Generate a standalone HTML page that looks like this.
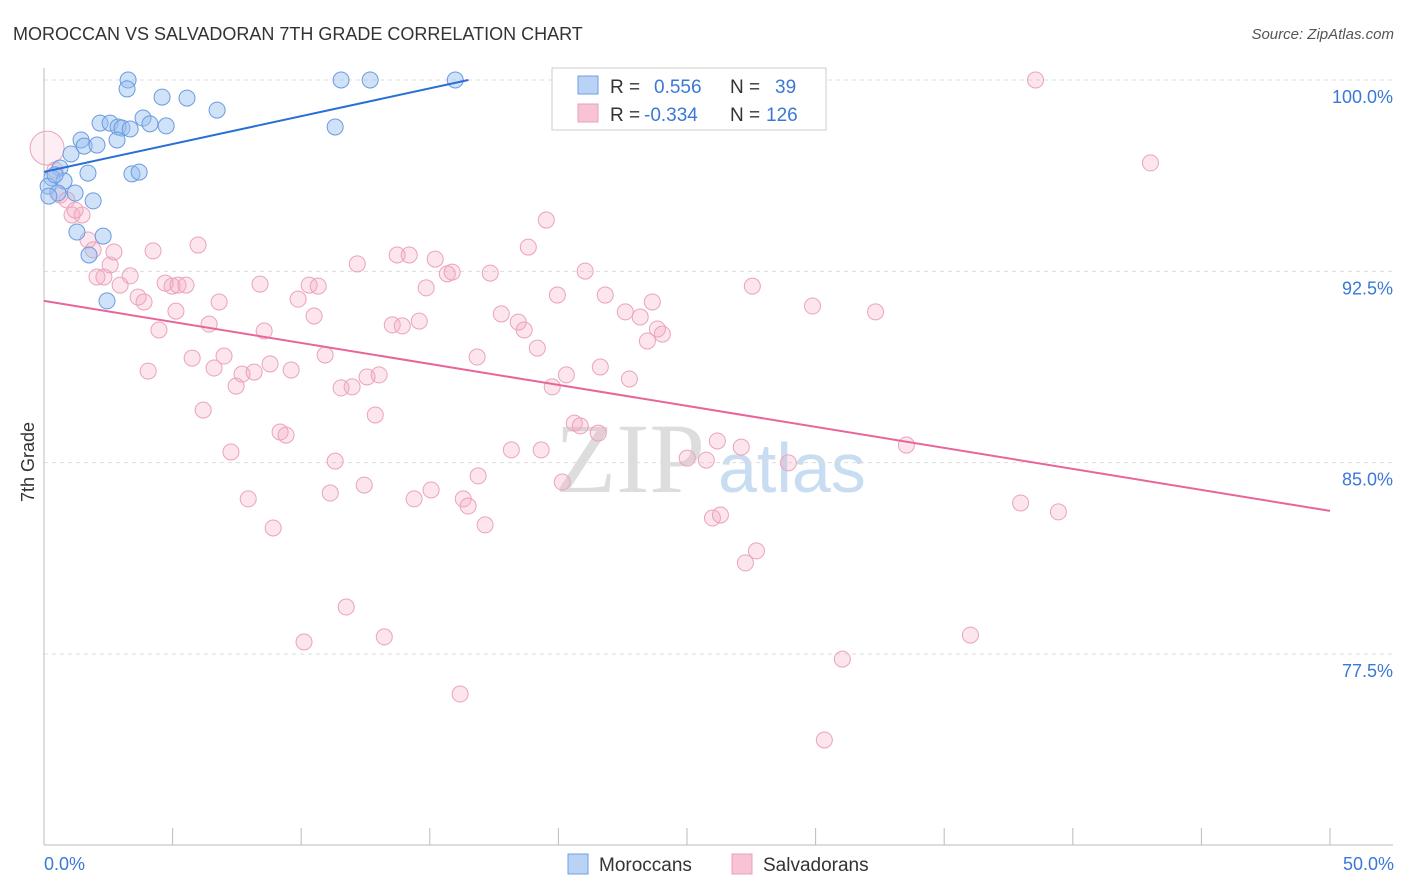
<!DOCTYPE html>
<html><head><meta charset="utf-8">
<style>
body{margin:0;background:#fff;font-family:"Liberation Sans",sans-serif;}
#wrap{position:relative;width:1406px;height:892px;overflow:hidden;}
</style></head>
<body>
<div id="wrap">
<svg id="chart" width="1406" height="892" xmlns="http://www.w3.org/2000/svg" font-family="Liberation Sans, sans-serif">
<text x="13" y="40" font-size="18" fill="#333">MOROCCAN VS SALVADORAN 7TH GRADE CORRELATION CHART</text>
<text x="1394" y="39" font-size="15" fill="#555" text-anchor="end" font-style="italic">Source: ZipAtlas.com</text>
<text x="555" y="492" font-size="100" fill="#ddd" font-family="Liberation Serif, serif">ZIP</text>
<text x="718" y="492" font-size="70" fill="#c8dcf2">atlas</text>
<g id="grid"></g>
<g id="axes"></g>
<g id="pts"></g>
<g id="lines"></g>
<text x="34" y="462" font-size="18" fill="#333" transform="rotate(-90 34 462)" text-anchor="middle">7th Grade</text>
<g>
<rect x="552" y="68" width="274" height="62" fill="#fff" stroke="#ccc"/>
<rect x="578" y="76" width="20" height="18" fill="#b8d3f5" stroke="#6f9fe0"/>
<rect x="578" y="104" width="20" height="18" fill="#f8c4d4" stroke="#e8a0b8"/>
<text x="610" y="93" font-size="19" fill="#333">R =</text>
<text x="654" y="93" font-size="19" fill="#3a78d8">0.556</text>
<text x="730" y="93" font-size="19" fill="#333">N =</text>
<text x="775" y="93" font-size="19" fill="#3a78d8">39</text>
<text x="610" y="121" font-size="19" fill="#333">R =</text>
<text x="644" y="121" font-size="19" fill="#3a78d8">-0.334</text>
<text x="730" y="121" font-size="19" fill="#333">N =</text>
<text x="766" y="121" font-size="19" fill="#3a78d8">126</text>
</g>
<g>
<rect x="568" y="854" width="20" height="20" fill="#b8d3f5" stroke="#6f9fe0"/>
<text x="599" y="871" font-size="19" fill="#333">Moroccans</text></g>
<g>
<rect x="732" y="854" width="20" height="20" fill="#f8c4d4" stroke="#e8a0b8"/>
<text x="763" y="871" font-size="19" fill="#333">Salvadorans</text></g>
</svg>
</div>
<script>
const yTicks=[100,92.5,85,77.5];
const yTickLabels=["100.0%","92.5%","85.0%","77.5%"];
const xTickLabels=["0.0%","50.0%"];
const blueX=[3.27,3.23,4.59,5.56,6.73,11.55,12.68,15.99,25.79,2.18,2.57,2.88,3.03,3.35,3.85,4.12,4.75,11.32,1.44,1.56,2.06,2.84,1.05,0.62,1.71,3.42,3.70,0.31,0.78,0.16,0.43,1.21,0.54,0.19,1.91,1.28,2.30,1.75,2.45];
const blueY=[100,99.65,99.33,99.29,98.82,100,100,100,100,98.31,98.31,98.16,98.12,98.08,98.51,98.28,98.2,98.16,97.65,97.41,97.45,97.65,97.1,96.55,96.35,96.32,96.39,96.16,96.04,95.84,96.28,95.57,95.57,95.45,95.26,94.04,93.88,93.14,91.34];
const pinkX=[38.55,43.02,0.12,0.43,0.62,0.89,1.09,1.48,1.21,1.71,1.91,2.06,2.33,2.57,2.72,2.96,3.35,3.66,3.89,4.24,4.05,4.47,4.71,4.98,5.21,5.52,5.13,5.76,5.99,6.19,6.42,6.61,6.81,7.00,7.27,7.47,7.70,7.94,8.17,8.40,8.56,8.79,8.91,9.18,9.41,9.61,9.88,10.11,10.31,10.50,10.66,10.93,11.13,11.32,11.55,11.75,11.98,12.18,12.45,12.56,12.88,13.03,13.23,13.54,13.73,13.93,14.20,14.39,14.59,14.86,15.05,15.21,15.68,15.87,16.18,16.30,16.49,16.84,16.88,17.15,17.35,17.78,18.17,18.44,18.67,18.83,19.18,19.33,19.53,19.76,19.96,20.15,20.31,20.62,20.85,21.04,21.55,21.63,21.82,22.60,22.76,23.18,23.46,23.65,23.85,24.04,25.01,25.75,25.99,26.18,26.30,27.11,27.27,27.54,27.70,28.94,29.88,30.34,31.04,32.33,33.53,36.02,37.97,39.44];
const pinkY=[100,96.75,97.33,96.47,95.49,95.3,94.71,94.71,94.9,93.73,93.34,92.28,92.28,92.75,93.26,91.96,92.32,91.49,91.3,93.3,88.59,90.2,92.04,91.92,91.96,91.96,90.94,89.1,93.53,87.06,90.43,88.71,91.3,89.18,85.42,88,88.47,83.58,88.55,92,90.16,88.87,82.44,86.2,86.08,88.63,91.41,77.97,91.96,90.75,91.92,89.22,83.81,85.06,87.93,79.34,87.97,92.79,84.12,88.36,86.87,88.44,78.17,90.4,93.14,90.36,93.14,83.58,90.55,91.85,83.93,92.98,92.4,92.47,75.93,83.58,83.3,89.14,84.48,82.56,92.43,90.83,85.5,90.51,90.2,93.45,89.49,85.5,94.51,87.97,91.57,84.24,88.44,86.55,86.44,92.51,86.16,88.75,91.57,90.91,88.28,90.71,89.77,91.3,90.24,90.04,85.18,85.1,82.83,85.85,82.95,85.61,81.07,91.92,81.54,84.99,91.14,74.13,77.3,90.91,85.69,78.24,83.42,83.07];
const blueTrendX=[0,16.5], blueTrendY=[96.4,100];
const pinkTrendX=[0,50], pinkTrendY=[91.34,83.11];
const NS="http://www.w3.org/2000/svg";
const sx=v=>44+v/50*1286;
const sy=v=>80+(100-v)/7.5*191.33;
function mk(tag,attrs,parent){const e=document.createElementNS(NS,tag);for(const k in attrs)e.setAttribute(k,attrs[k]);parent.appendChild(e);return e;}
const grid=document.getElementById('grid'),axes=document.getElementById('axes'),pts=document.getElementById('pts'),lines=document.getElementById('lines');
yTicks.forEach((t,i)=>{
 const l=mk('line',{x1:44,x2:1393,y1:sy(t),y2:sy(t),stroke:'#ddd','stroke-dasharray':'4,4'},grid);
 
 
 const tx=mk('text',{x:1393,y:sy(t)+23,'font-size':18,fill:'#3a78d8','text-anchor':'end'},axes);
 tx.textContent=yTickLabels[i];
 
 
});
const xa=mk('line',{x1:44,x2:1393,y1:845,y2:845,stroke:'#bbb'},axes);


const ya=mk('line',{x1:44,x2:44,y1:68,y2:845,stroke:'#bbb'},axes);


for(let k=0;k<=10;k++){const t=mk('line',{x1:sx(k*5),x2:sx(k*5),y1:828,y2:845,stroke:'#bbb'},axes);
 
 }
[[0,'start',44],[50,'end',1394]].forEach((a,i)=>{const t=mk('text',{x:a[2],y:870,'font-size':18,fill:'#3a78d8','text-anchor':a[1]},axes);t.textContent=xTickLabels[i];
 
 });
pinkX.forEach((x,i)=>{const c=mk('circle',{cx:sx(x),cy:sy(pinkY[i]),r:i==2?17:8,fill:i==2?'rgba(244,170,196,0.2)':'rgba(244,170,196,0.3)',stroke:'#eaa3bc','stroke-width':1},pts);
 
 });
blueX.forEach((x,i)=>{const c=mk('circle',{cx:sx(x),cy:sy(blueY[i]),r:8,fill:'rgba(150,190,240,0.45)',stroke:'#6a9be0','stroke-width':1},pts);
 
 });
const bl=mk('line',{x1:sx(blueTrendX[0]),y1:sy(blueTrendY[0]),x2:sx(blueTrendX[1]),y2:sy(blueTrendY[1]),stroke:'#2a6fd6','stroke-width':2},lines);


const pl=mk('line',{x1:sx(pinkTrendX[0]),y1:sy(pinkTrendY[0]),x2:sx(pinkTrendX[1]),y2:sy(pinkTrendY[1]),stroke:'#e8659a','stroke-width':2},lines);


</script>
</body></html>
